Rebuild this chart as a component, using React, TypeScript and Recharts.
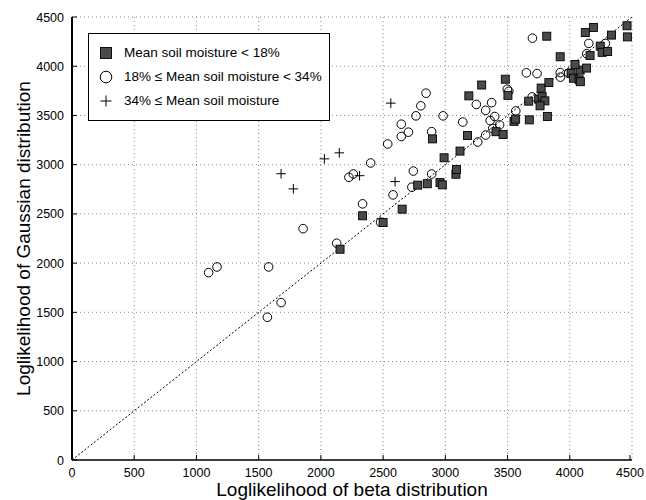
import React from "react";
import {
  ScatterChart,
  Scatter,
  XAxis,
  YAxis,
  CartesianGrid,
  ReferenceLine,
} from "recharts";

const FONT = '"Liberation Sans", Arial, Helvetica, sans-serif';

const axisTicks = [0, 500, 1000, 1500, 2000, 2500, 3000, 3500, 4000, 4500];

const legendLabels = [
  "Mean soil moisture < 18%",
  "18% \u2264 Mean soil moisture < 34%",
  "34% \u2264 Mean soil moisture",
];

// mean soil moisture < 18%
const dryBeta = [
  2154, 2335, 2500, 2653, 2778, 2855, 2957, 2976, 2990, 3085, 3090, 3118, 2897,
  3178, 3189, 3292, 3407, 3464, 3552, 3565, 3675, 3820, 3503, 3482, 3815, 3923,
  3670, 3750, 3778, 3800, 3761, 3770, 3832, 4010, 4029, 4075, 4085, 4083, 4042,
  4135, 4163, 4125, 4190, 4245, 4260, 4304, 4335, 4460, 4463,
];
const dryGauss = [
  2141, 2481, 2412, 2548, 2792, 2806, 2818, 2795, 3070, 2903, 2950, 3138, 3262,
  3296, 3699, 3809, 3335, 3306, 3440, 3463, 3455, 3489, 3704, 3868, 4305, 4096,
  3645, 3666, 3690, 3648, 3598, 3778, 3834, 3928, 3878, 3862, 3843, 3960, 4018,
  3981, 4108, 4342, 4394, 4204, 4141, 4149, 4316, 4411, 4298,
];

// 18% <= mean soil moisture < 34%
const midBeta = [
  1098, 1165, 1580, 1680, 1570, 1857, 2127, 2225, 2261, 2400, 2335, 2480, 2580,
  2731, 2743, 2890, 2537, 2646, 2703, 2646, 2764, 2803, 2845, 2890, 2982, 3140,
  3249, 3324, 3372, 3397, 3360, 3381, 3436, 3324, 3260, 3566, 3498, 3510, 3651,
  3737, 3700, 3698, 3923, 3925, 3991, 4136, 4153, 4286,
];
const midGauss = [
  1903, 1961, 1961, 1599, 1450, 2350, 2202, 2872, 2905, 3017, 2602, 2415, 2693,
  2771, 2935, 2905, 3210, 3286, 3330, 3411, 3496, 3598, 3726, 3335, 3496, 3433,
  3612, 3552, 3630, 3489, 3448, 3367, 3404, 3301, 3230, 3546, 3767, 3745, 3933,
  3925, 4285, 3688, 3935, 3889, 3930, 4127, 4232, 4231,
];

// 34% <= mean soil moisture
const wetBeta = [1680, 1779, 2028, 2148, 2311, 2596, 2562];
const wetGauss = [2908, 2754, 3059, 3120, 2888, 2828, 3625];

const zip = (xs: number[], ys: number[]) => xs.map((x, i) => ({ x, y: ys[i] }));

const dryData = zip(dryBeta, dryGauss);
const midData = zip(midBeta, midGauss);
const wetData = zip(wetBeta, wetGauss);

const drawSquare = (cx: number, cy: number, side: number) => (
  <rect
    x={cx - side / 2}
    y={cy - side / 2}
    width={side}
    height={side}
    fill="#4a4a4a"
    stroke="#000"
    strokeWidth={0.9}
  />
);

const drawCircle = (cx: number, cy: number, rad: number) => (
  <circle cx={cx} cy={cy} r={rad} fill="none" stroke="#000" strokeWidth={1} />
);

const drawPlus = (cx: number, cy: number, half: number) => (
  <g stroke="#000" strokeWidth={1}>
    <line x1={cx - half} y1={cy} x2={cx + half} y2={cy} />
    <line x1={cx} y1={cy - half} x2={cx} y2={cy + half} />
  </g>
);

const SquareMark = (p: any) => drawSquare(p.cx, p.cy, 8);
const CircleMark = (p: any) => drawCircle(p.cx, p.cy, 4.3);
const PlusMark = (p: any) => drawPlus(p.cx, p.cy, 4.8);

const BottomTick = ({ x, y, payload }: any) => (
  <g>
    <line x1={x} y1={y} x2={x} y2={y - 5} stroke="#000" />
    <text x={x} y={y + 17} textAnchor="middle" fontSize={12.5} fill="#000" fontFamily={FONT}>
      {payload.value}
    </text>
  </g>
);

const LeftTick = ({ x, y, payload }: any) => (
  <g>
    <line x1={x} y1={y} x2={x + 5} y2={y} stroke="#000" />
    <text x={x - 8} y={y + 4.5} textAnchor="end" fontSize={12.5} fill="#000" fontFamily={FONT}>
      {payload.value}
    </text>
  </g>
);

const TopTick = ({ x, y }: any) => <line x1={x} y1={y} x2={x} y2={y + 5} stroke="#000" />;
const RightTick = ({ x, y }: any) => <line x1={x} y1={y} x2={x - 5} y2={y} stroke="#000" />;

function LegendBox() {
  const marks = [drawSquare(7, 7, 11), drawCircle(7, 7, 5.8), drawPlus(7, 7, 5.5)];
  return (
    <div
      style={{
        position: "absolute",
        left: 88,
        top: 33,
        width: 240,
        height: 86,
        border: "1px solid #000",
        background: "#fff",
        fontFamily: FONT,
        fontSize: 13.5,
        color: "#000",
      }}
    >
      {legendLabels.map((label, i) => (
        <div
          key={label}
          style={{
            position: "absolute",
            left: 10,
            top: 11 + i * 24,
            display: "flex",
            alignItems: "center",
            whiteSpace: "nowrap",
          }}
        >
          <svg width={14} height={14} style={{ marginRight: 11 }}>
            {marks[i]}
          </svg>
          <span>{label}</span>
        </div>
      ))}
    </div>
  );
}

export default function App() {
  return (
    <div style={{ position: "absolute", left: 0, top: 0, width: 646, height: 500, background: "#fff", fontFamily: FONT }}>
      <ScatterChart width={646} height={500} margin={{ top: 17, right: 14, bottom: 0, left: 12 }}>
        <CartesianGrid stroke="#8a8a8a" strokeDasharray="1 3" />
        <XAxis
          type="number"
          dataKey="x"
          domain={[0, 4500]}
          ticks={axisTicks}
          height={40}
          tickSize={0}
          tickMargin={0}
          tickLine={false}
          tick={BottomTick}
          axisLine={{ stroke: "#000", strokeWidth: 1.5 }}
          allowDataOverflow
          label={{
            value: "Loglikelihood of beta distribution",
            position: "insideBottom",
            offset: 4,
            style: { fontSize: 19, fill: "#000", fontFamily: FONT },
          }}
        />
        <XAxis
          xAxisId="top"
          orientation="top"
          type="number"
          dataKey="x"
          domain={[0, 4500]}
          ticks={axisTicks}
          height={0}
          tickSize={0}
          tickMargin={0}
          tickLine={false}
          tick={TopTick}
          axisLine={{ stroke: "#000", strokeWidth: 1.2 }}
          allowDataOverflow
        />
        <YAxis
          type="number"
          dataKey="y"
          domain={[0, 4500]}
          ticks={axisTicks}
          width={60}
          tickSize={0}
          tickMargin={0}
          tickLine={false}
          tick={LeftTick}
          axisLine={{ stroke: "#000", strokeWidth: 2 }}
          allowDataOverflow
          label={{
            value: "Loglikelihood of Gaussian distribution",
            angle: -90,
            position: "insideLeft",
            offset: 11,
            style: { textAnchor: "middle", fontSize: 19, fill: "#000", fontFamily: FONT },
          }}
        />
        <YAxis
          yAxisId="right"
          orientation="right"
          type="number"
          dataKey="y"
          domain={[0, 4500]}
          ticks={axisTicks}
          width={0}
          tickSize={0}
          tickMargin={0}
          tickLine={false}
          tick={RightTick}
          axisLine={{ stroke: "#000", strokeWidth: 1.5 }}
          allowDataOverflow
        />
        <ReferenceLine
          segment={[
            { x: 0, y: 0 },
            { x: 4500, y: 4500 },
          ]}
          stroke="#000"
          strokeDasharray="2 2"
        />
        <Scatter data={midData} shape={CircleMark} isAnimationActive={false} />
        <Scatter data={dryData} shape={SquareMark} isAnimationActive={false} />
        <Scatter data={wetData} shape={PlusMark} isAnimationActive={false} />
      </ScatterChart>
      <LegendBox />
    </div>
  );
}
